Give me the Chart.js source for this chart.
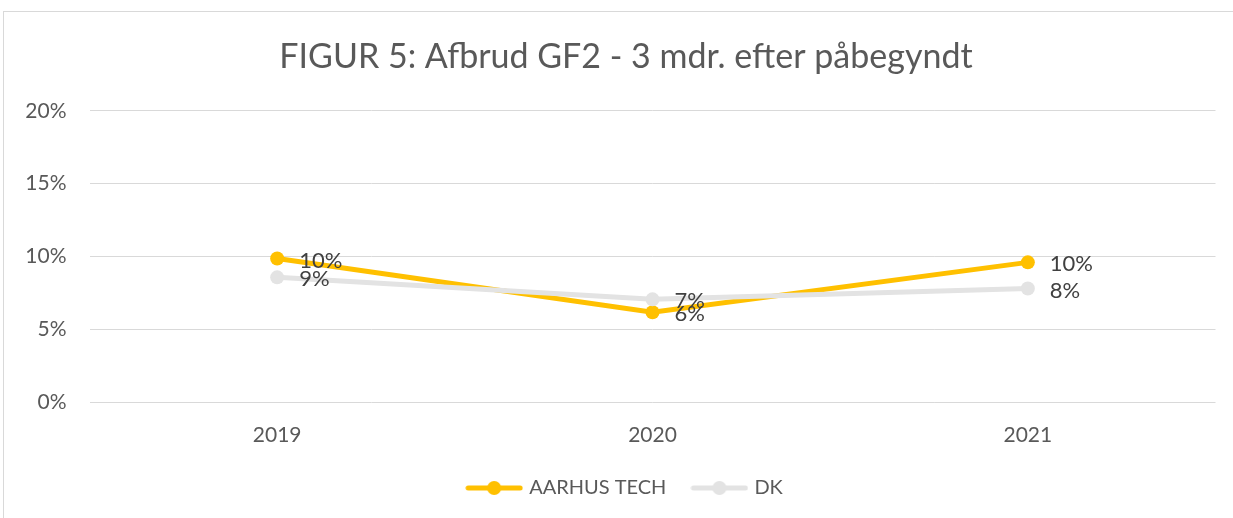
<!DOCTYPE html>
<html>
<head>
<meta charset="utf-8">
<script src="https://cdn.jsdelivr.net/npm/chart.js@4"></script>
<style>
  html, body { margin: 0; padding: 0; background: #fff; overflow: hidden; }
  #ramme {
    position: absolute; left: 3px; top: 11px;
    width: 1244px; height: 506px;
    border-left: 1px solid #d9d9d9; border-top: 1px solid #d9d9d9;
  }
  #graf { display: block; }
</style>
</head>
<body>
<div id="ramme"><canvas id="graf" width="1244" height="506"></canvas></div>
<script>
// data (procent)
const aar = ["2019", "2020", "2021"];
const aarhusTech = [9.86, 6.16, 9.59];
const dk = [8.56, 7.05, 7.8];
const serieNavne = ["AARHUS TECH", "DK"];
const titel = "FIGUR 5: Afbrud GF2 - 3 mdr. efter påbegyndt";

const GULD = "#FFC000";
const GRAA = "#E3E3E3";
const FONT = "Lato, 'Open Sans', sans-serif";

// lille billede til legenden: streg med prik i midten
function legendeIkon(farve) {
  const c = document.createElement("canvas");
  c.width = 58; c.height = 16;
  const g = c.getContext("2d");
  g.strokeStyle = farve;
  g.lineWidth = 5;
  g.lineCap = "round";
  g.beginPath(); g.moveTo(3, 8); g.lineTo(55, 8); g.stroke();
  g.fillStyle = farve;
  g.beginPath(); g.arc(29, 8, 7, 0, Math.PI * 2); g.fill();
  return c;
}
const ikoner = [legendeIkon(GULD), legendeIkon(GRAA)];

// dataetiketter til højre for punkterne
const etiketter = {
  id: "etiketter",
  afterDatasetsDraw(chart) {
    const ctx = chart.ctx;
    ctx.save();
    ctx.font = "22px " + FONT;
    ctx.fillStyle = "#404040";
    ctx.textAlign = "left";
    ctx.textBaseline = "middle";
    chart.data.datasets.forEach((ds, i) => {
      chart.getDatasetMeta(i).data.forEach((pt, j) => {
        ctx.fillText(Math.round(ds.data[j]) + "%", pt.x + 22, pt.y + 2);
      });
    });
    ctx.restore();
  }
};

new Chart(document.getElementById("graf"), {
  type: "line",
  data: {
    labels: aar,
    datasets: [
      {
        label: serieNavne[0],
        data: aarhusTech,
        borderColor: GULD,
        backgroundColor: GULD,
        borderWidth: 5,
        pointRadius: 7,
        pointBorderWidth: 0,
        pointStyle: "circle",
        tension: 0,
        order: 2
      },
      {
        label: serieNavne[1],
        data: dk,
        borderColor: GRAA,
        backgroundColor: GRAA,
        borderWidth: 5,
        pointRadius: 7,
        pointBorderWidth: 0,
        pointStyle: "circle",
        tension: 0,
        order: 1
      }
    ]
  },
  options: {
    responsive: false,
    animation: false,
    layout: { padding: { left: 0, right: 0, top: 0, bottom: 10 } },
    plugins: {
      title: {
        display: true,
        text: titel,
        color: "#595959",
        font: { family: FONT, size: 34, weight: "normal" },
        padding: { top: 25, bottom: 33 }
      },
      legend: {
        position: "bottom",
        labels: {
          usePointStyle: true,
          pointStyleWidth: 50,
          color: "#595959",
          font: { family: FONT, size: 20 },
          padding: 28,
          boxHeight: 16,
          generateLabels(chart) {
            const items = Chart.defaults.plugins.legend.labels.generateLabels(chart);
            items.forEach(it => { it.pointStyle = ikoner[it.datasetIndex]; });
            return items;
          },
          sort: (a, b) => a.datasetIndex - b.datasetIndex
        }
      },
      tooltip: { enabled: false }
    },
    scales: {
      x: {
        offset: true,
        grid: { display: false },
        border: { display: false },
        ticks: { color: "#595959", font: { family: FONT, size: 21 }, padding: 13 },
        afterFit: s => { s.height = 48; }
      },
      y: {
        min: 0,
        max: 20,
        grid: { color: "#d9d9d9", lineWidth: 1, drawTicks: false },
        border: { display: false },
        ticks: {
          stepSize: 5,
          padding: 23,
          color: "#595959",
          font: { family: FONT, size: 21 },
          callback: v => v + "%"
        },
        afterFit: s => { s.width = 85.5; }
      },
      // tom akse til højre, kun for at give plads som i originalen
      hoejre: {
        position: "right",
        min: 0,
        max: 1,
        grid: { display: false },
        border: { display: false },
        ticks: { display: false },
        afterFit: s => { s.width = 32.5; }
      }
    }
  },
  plugins: [etiketter]
});
</script>
</body>
</html>
